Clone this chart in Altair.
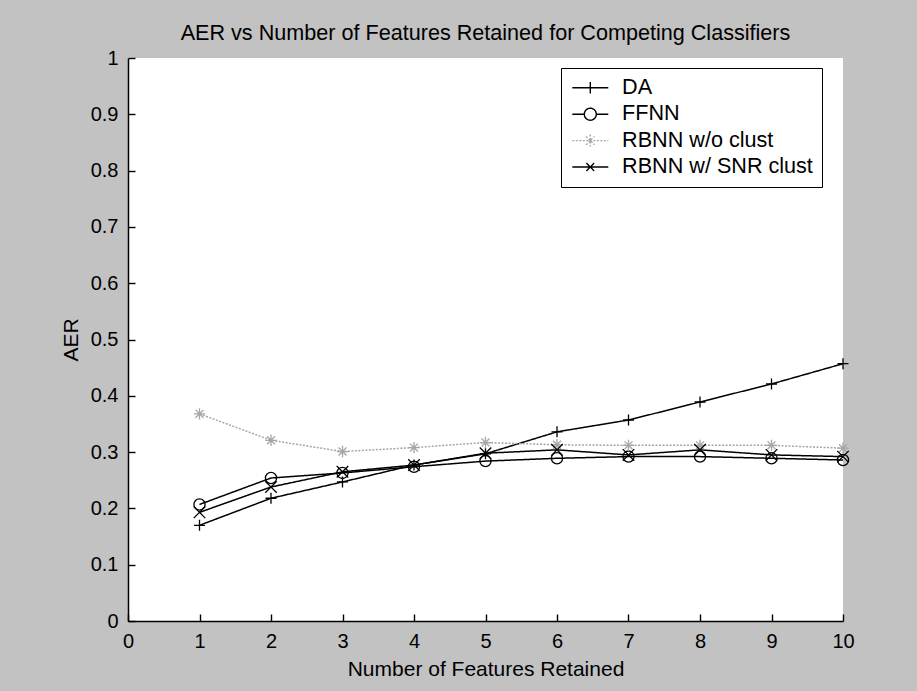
import altair as alt
import pandas as pd

# ---------------- data ----------------
features = [1, 2, 3, 4, 5, 6, 7, 8, 9, 10]
da = [0.170, 0.218, 0.247, 0.277, 0.297, 0.336, 0.357, 0.389, 0.421, 0.457]
ffnn = [0.207, 0.254, 0.263, 0.274, 0.284, 0.289, 0.292, 0.292, 0.289, 0.286]
rbnn_noclust = [0.368, 0.321, 0.301, 0.308, 0.317, 0.313, 0.312, 0.312, 0.312, 0.307]
rbnn_snr = [0.193, 0.238, 0.265, 0.277, 0.298, 0.304, 0.295, 0.304, 0.295, 0.292]

series_names = ["DA", "FFNN", "RBNN w/o clust", "RBNN w/ SNR clust"]
series_colors = ["#000000", "#000000", "#a6a6a6", "#000000"]
x_ticks = [0, 1, 2, 3, 4, 5, 6, 7, 8, 9, 10]
y_ticks = [0, 0.1, 0.2, 0.3, 0.4, 0.5, 0.6, 0.7, 0.8, 0.9, 1]

rows = []
for name, vals in zip(series_names, [da, ffnn, rbnn_noclust, rbnn_snr]):
    for f, v in zip(features, vals):
        rows.append({"features": f, "aer": v, "series": name})
df = pd.DataFrame(rows)

FONT = "Liberation Sans"

# ---------------- styles ----------------
marker_paths = [
    "M-1,0H1M0,-1V1",
    "circle",
    "M-1,0H1M0,-1V1M-0.7,-0.7L0.7,0.7M-0.7,0.7L0.7,-0.7",
    "M-1,-1L1,1M-1,1L1,-1",
]
marker_sizes = [121, 133, 121, 64]
dashes = [[1, 0], [1, 0], [2, 1.5], [1, 0]]

# legend symbols: line sample with the marker in its middle
legend_paths = [
    "M-3,0H3M0,-0.95V0.95",
    "M-3,0H-1M1,0H3M-1,0A1,1 0 1,1 1,0A1,1 0 1,1 -1,0",
    "M-3,0H3M0,-1V1M-0.7,-0.7L0.7,0.7M-0.7,0.7L0.7,-0.7",
    "M-3,0H3M-0.65,-0.65L0.65,0.65M-0.65,0.65L0.65,-0.65",
]

x_scale = alt.Scale(domain=[0, 10], nice=False)
y_scale = alt.Scale(domain=[0, 1], nice=False)


def color_scale():
    return alt.Scale(domain=series_names, range=series_colors)


def dash_scale():
    return alt.Scale(domain=series_names, range=dashes)


legend = alt.Legend(
    title=None,
    orient="none",
    legendX=433,
    legendY=10,
    fillColor="white",
    strokeColor="black",
    padding=9,
    symbolSize=144,
    symbolStrokeWidth=1.4,
    symbolFillColor="transparent",
    symbolOpacity=1,
    symbolOffset=9.5,
    labelOffset=21,
    labelFont=FONT,
    labelFontSize=21.6,
    labelColor="black",
    labelLimit=400,
    rowPadding=3.4,
    labelExpr="datum.label + '\u00a0\u00a0'",
)

x_main = alt.X(
    "features:Q",
    scale=x_scale,
    axis=alt.Axis(
        orient="bottom", values=x_ticks, format="d", ticks=False, tickSize=0,
        domainColor="black", domainWidth=1.5, grid=False,
        labelFont=FONT, labelFontSize=20, labelColor="black", labelPadding=10,
        labelFlush=False, labelOverlap=False,
        title="Number of Features Retained", titleFont=FONT, titleFontSize=21,
        titleFontWeight="normal", titleColor="black", titlePadding=7,
    ),
)
y_main = alt.Y(
    "aer:Q",
    scale=y_scale,
    axis=alt.Axis(
        orient="left", values=y_ticks, format="~g", ticks=False, tickSize=0,
        domainColor="black", domainWidth=1.5, grid=False,
        labelFont=FONT, labelFontSize=20, labelColor="black", labelPadding=10,
        labelFlush=False, labelOverlap=False,
        title="AER", titleFont=FONT, titleFontSize=21,
        titleFontWeight="normal", titleColor="black", titlePadding=9,
    ),
)
x_tick = alt.X(
    "features:Q",
    scale=x_scale,
    axis=alt.Axis(
        orient="bottom", values=x_ticks, offset=-7, tickSize=7, tickColor="black",
        tickWidth=1.4, labels=False, domain=False, grid=False, title=None,
    ),
)
y_tick = alt.Y(
    "aer:Q",
    scale=y_scale,
    axis=alt.Axis(
        orient="left", values=y_ticks, offset=-7, tickSize=7, tickColor="black",
        tickWidth=1.4, labels=False, domain=False, grid=False, title=None,
    ),
)

lines = alt.Chart(df).mark_line(strokeWidth=1.5).encode(
    x=x_main,
    y=y_main,
    color=alt.Color("series:N", scale=color_scale(), legend=None),
    strokeDash=alt.StrokeDash("series:N", scale=dash_scale(), legend=None),
)

points = alt.Chart(df).mark_point(filled=False, strokeWidth=1.3, opacity=1).encode(
    x=x_tick,
    y=y_tick,
    color=alt.Color("series:N", scale=color_scale(), legend=None),
    shape=alt.Shape(
        "series:N", scale=alt.Scale(domain=series_names, range=marker_paths), legend=None
    ),
    size=alt.Size(
        "series:O", scale=alt.Scale(domain=series_names, range=marker_sizes), legend=None
    ),
)

# legend-only layer: no data rows are drawn, the legend comes from the scale domains
legend_layer = (
    alt.Chart(df)
    .transform_filter("datum.features < 0")
    .mark_point(filled=False, strokeWidth=1.4, opacity=1)
    .encode(
        x=alt.X("features:Q", scale=x_scale, axis=None),
        y=alt.Y("aer:Q", scale=y_scale, axis=None),
        color=alt.Color("series:N", scale=color_scale(), legend=legend),
        shape=alt.Shape(
            "series:N", scale=alt.Scale(domain=series_names, range=legend_paths), legend=legend
        ),
        strokeDash=alt.StrokeDash("series:N", scale=dash_scale(), legend=legend),
    )
)

chart = (
    alt.layer(lines, points, legend_layer)
    .resolve_axis(x="independent", y="independent")
    .resolve_scale(color="independent", shape="independent", strokeDash="independent", size="independent")
    .properties(
        width=715,
        height=563,
        autosize=alt.AutoSizeParams(type="none"),
        padding={"left": 128, "top": 58, "right": 74, "bottom": 70},
        background="#c2c2c2",
        title=alt.TitleParams(
            text="AER vs Number of Features Retained for Competing Classifiers",
            font=FONT, fontSize=21.6, fontWeight="normal", color="black",
            anchor="middle", offset=3,
        ),
    )
    .configure_view(fill="white", strokeWidth=0)
)

chart.save("out.html", embed_options={"renderer": "svg", "actions": False})
